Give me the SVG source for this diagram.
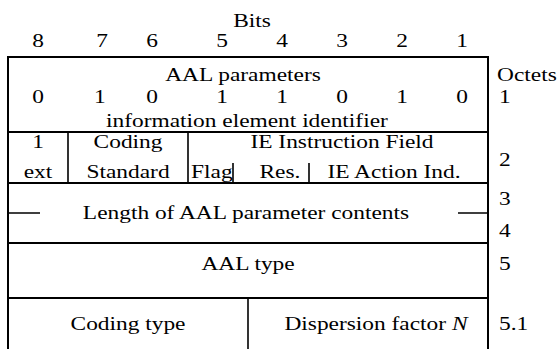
<svg xmlns="http://www.w3.org/2000/svg" width="557" height="349" viewBox="0 0 557 349">
  <style>
    .t { font-family: "Liberation Serif", "Times New Roman", serif; font-size: 19.5px; fill: #000; }
    .m { text-anchor: middle; }
    .rule { stroke: #000; stroke-width: 2; fill: none; }
    .thin { stroke: #000; stroke-width: 1.6; fill: none; }
  </style>
  <rect width="557" height="349" fill="#fff"/>

  <!-- frame and row rules -->
  <g id="connectors">
    <path class="rule" d="M8 350 V57 H488 V350"/>
    <path class="rule" d="M8 132 H488 M8 183 H488 M8 243 H488 M8 298 H488"/>
    <!-- octet 2 field dividers -->
    <path class="thin" d="M68 132 V183 M188 132 V183 M233 163 V183 M309 163 V183"/>
    <!-- length continuation dashes -->
    <path class="thin" d="M8 213 H40 M458 213 H488"/>
    <!-- octet 5.1 divider -->
    <path class="thin" d="M248 298 V350"/>
  </g>

  <!-- text is set in a horizontally widened serif face -->
  <g transform="scale(1.2 1)">
    <g id="bit-header">
      <text class="t m" x="210" y="27">Bits</text>
      <text class="t m" x="31.7" y="47">8</text>
      <text class="t m" x="85" y="47">7</text>
      <text class="t m" x="126.7" y="47">6</text>
      <text class="t m" x="185" y="47">5</text>
      <text class="t m" x="235" y="47">4</text>
      <text class="t m" x="285" y="47">3</text>
      <text class="t m" x="335" y="47">2</text>
      <text class="t m" x="385" y="47">1</text>
    </g>

    <g id="octets">
      <text class="t" x="414.2" y="81">Octets</text>
      <text class="t" x="415.8" y="103">1</text>
      <text class="t" x="415.8" y="166">2</text>
      <text class="t" x="415.8" y="205">3</text>
      <text class="t" x="415.8" y="237">4</text>
      <text class="t" x="415.8" y="270">5</text>
      <text class="t" x="415.8" y="330">5.1</text>
    </g>

    <g id="octet1">
      <text class="t m" x="202.5" y="81">AAL parameters</text>
      <text class="t m" x="31.7" y="103">0</text>
      <text class="t m" x="83.3" y="103">1</text>
      <text class="t m" x="126.7" y="103">0</text>
      <text class="t m" x="185" y="103">1</text>
      <text class="t m" x="235" y="103">1</text>
      <text class="t m" x="285" y="103">0</text>
      <text class="t m" x="335" y="103">1</text>
      <text class="t m" x="385" y="103">0</text>
      <text class="t m" x="205.8" y="127">information element identifier</text>
    </g>

    <g id="ext">
      <text class="t m" x="31.7" y="148">1</text>
      <text class="t m" x="31.7" y="178">ext</text>
    </g>
    <g id="coding-standard">
      <text class="t m" x="106.7" y="148">Coding</text>
      <text class="t m" x="106.7" y="178">Standard</text>
    </g>
    <g id="ie-instruction">
      <text class="t m" x="285" y="148">IE Instruction Field</text>
      <text class="t" x="159.2" y="178">Flag</text>
      <text class="t m" x="233.3" y="178">Res.</text>
      <text class="t m" x="328.3" y="178">IE Action Ind.</text>
    </g>

    <g id="length">
      <text class="t m" x="205" y="219">Length of AAL parameter contents</text>
    </g>
    <g id="aal-type">
      <text class="t m" x="206.7" y="270">AAL type</text>
    </g>
    <g id="coding-type">
      <text class="t m" x="106.7" y="330">Coding type</text>
    </g>
    <g id="dispersion">
      <text class="t m" x="313.3" y="330">Dispersion factor <tspan font-style="italic">N</tspan></text>
    </g>
  </g>
</svg>
